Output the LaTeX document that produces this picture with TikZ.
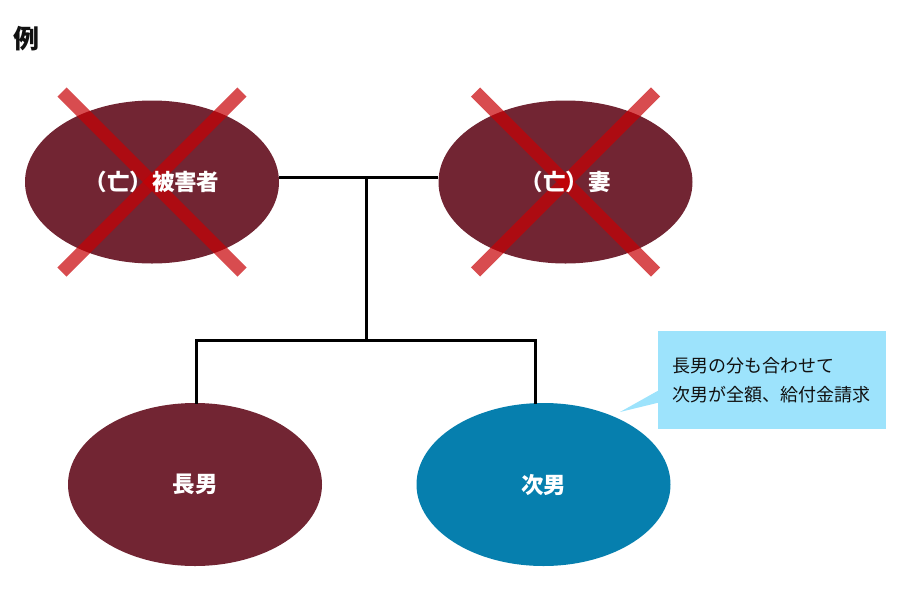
\documentclass[tikz,border=0pt]{standalone}
\usepackage{fontspec}
\setmainfont{Noto Sans CJK JP}
\usetikzlibrary{shapes.geometric,calc}
\definecolor{maroon}{RGB}{114,37,51}
\definecolor{teal}{RGB}{6,127,174}
\definecolor{callout}{RGB}{157,227,252}
\definecolor{xred}{RGB}{199,0,4}
\definecolor{ink}{RGB}{17,17,17}
\tikzset{
  person/.style={ellipse, draw=none, minimum width=254pt, minimum height=163pt, inner sep=0pt},
  plabel/.style={text=white, font=\fontsize{22.5}{26}\selectfont\bfseries},
  xline/.style={draw=xred, line width=13pt, opacity=0.7},
  link/.style={draw=black, line width=3pt},
}
\begin{document}
\begin{tikzpicture}[x=1pt,y=-1pt]
\useasboundingbox (0,0) rectangle (900,592);
\node[anchor=west, text=ink, font=\fontsize{26}{30}\selectfont\bfseries, inner sep=0pt] (title) at (13,39) {例};
% top ellipses
\node[person, fill=maroon] (victim) at (152,182) {};
\node[person, fill=maroon] (wife) at (565.5,182) {};
% children
\node[person, fill=maroon] (son1) at (195,484.5) {};
\node[person, fill=teal] (son2) at (543.5,484.5) {};
% connectors
\coordinate (j) at (366,177);
\coordinate (k) at (366,340);
\coordinate (kl) at (196,340);
\coordinate (kr) at (535,340);
\draw[link] (victim.east |- j) -- (wife.west |- j);
\draw[link] (j) -- (k);
\draw[link, line cap=rect] (kl |- son1.north) -- (kl) -- (kr) -- (kr |- son2.north);
% crosses
\draw[xline] ($(victim.center)+(-90,-90)$) -- ($(victim.center)+(90,90)$);
\draw[xline] ($(victim.center)+(90,-90)$) -- ($(victim.center)+(-90,90)$);
\draw[xline] ($(wife.center)+(-90,-90)$) -- ($(wife.center)+(90,90)$);
\draw[xline] ($(wife.center)+(90,-90)$) -- ($(wife.center)+(-90,90)$);
% labels
\node[plabel] (lv) at (victim.center) {（亡）被害者};
\node[plabel] (lw) at (wife.center) {（亡）妻};
\node[plabel] (l1) at (son1.center) {長男};
\node[plabel] (l2) at (son2.center) {次男};
% callout
\node[fill=callout, minimum width=228pt, minimum height=98pt, text width=200pt, inner xsep=14pt, inner ysep=0pt, align=left, text=ink, font=\fontsize{18}{29}\selectfont] (note) at (772,380) {長男の分も合わせて\\次男が全額、給付金請求};
\coordinate (tip) at (620,412);
\fill[callout] ($(note.north west)+(0,60)$) -- (tip) -- ($(note.north west)+(0,72)$) -- cycle;
\end{tikzpicture}
\end{document}
